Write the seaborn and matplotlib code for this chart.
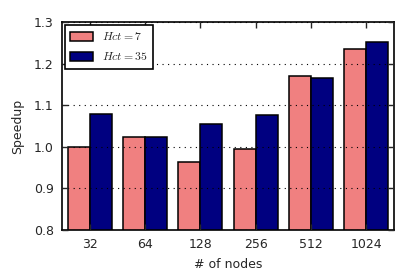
import matplotlib
matplotlib.use("Agg")
import matplotlib.pyplot as plt
import seaborn as sns
import pandas as pd

nodes = ["32", "64", "128", "256", "512", "1024"]
hct7 = [1.000, 1.024, 0.964, 0.995, 1.171, 1.234]
hct35 = [1.080, 1.024, 1.055, 1.076, 1.166, 1.252]
series = ["$Hct=7$", "$Hct=35$"]
colors = ["#F08080", "#000080"]

df = pd.DataFrame({
    "nodes": nodes * 2,
    "speedup": hct7 + hct35,
    "series": [series[0]] * len(nodes) + [series[1]] * len(nodes),
})

sns.set_style("ticks")
plt.rcParams["font.family"] = ["DejaVu Sans"]
plt.rcParams["mathtext.fontset"] = "cm"

fig = plt.figure(figsize=(4.15, 2.78), dpi=100)
ax = fig.add_axes([62/415, 1 - 230/278, 332/415, 208/278])
sns.barplot(data=df, x="nodes", y="speedup", hue="series", order=nodes,
            hue_order=series, palette=colors, width=0.8, saturation=1,
            edgecolor="black", linewidth=1.1, ax=ax, zorder=2)

ax.set_ylim(0.8, 1.3)
ax.set_xlim(-0.5, 5.5)
ax.set_yticks([0.8, 0.9, 1.0, 1.1, 1.2, 1.3])
ax.set_yticklabels(["0.8", "0.9", "1.0", "1.1", "1.2", "1.3"])
ax.yaxis.grid(True, linestyle=(0, (1, 4)), color="black", linewidth=0.8, zorder=3)
ax.set_axisbelow(False)
ax.set_xlabel("# of nodes", fontsize=9, labelpad=5)
ax.set_ylabel("Speedup", fontsize=9, labelpad=7)
ax.tick_params(direction="in", length=4, width=1, labelsize=9, top=True, right=True, pad=6)
for s in ax.spines.values():
    s.set_linewidth(1.2)
    s.set_color("black")

leg = ax.legend(loc="upper left", fontsize=8.5, frameon=True, fancybox=False,
                edgecolor="black", framealpha=1, borderaxespad=0.25,
                handlelength=1.9, handleheight=0.8, handletextpad=0.8,
                labelspacing=0.6, borderpad=0.45, title=None)
leg.get_frame().set_linewidth(1.2)

fig.savefig("out.png", dpi=100)
